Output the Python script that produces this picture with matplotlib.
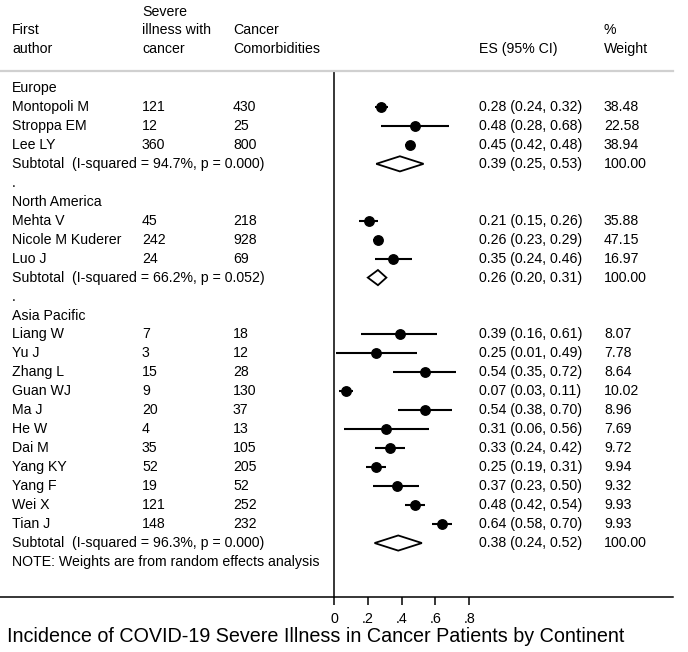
import matplotlib
matplotlib.use("Agg")
import matplotlib.pyplot as plt
from matplotlib.patches import Polygon

plt.rcParams["font.family"] = ["Liberation Sans", "DejaVu Sans"]

# ---- data ----
groups = ["Europe", "North America", "Asia Pacific"]
authors = [
    ["Montopoli M", "Stroppa EM", "Lee LY"],
    ["Mehta V", "Nicole M Kuderer", "Luo J"],
    ["Liang W", "Yu J", "Zhang L", "Guan WJ", "Ma J", "He W", "Dai M",
     "Yang KY", "Yang F", "Wei X", "Tian J"],
]
severe = [
    [121, 12, 360],
    [45, 242, 24],
    [7, 3, 15, 9, 20, 4, 35, 52, 19, 121, 148],
]
cancer = [
    [430, 25, 800],
    [218, 928, 69],
    [18, 12, 28, 130, 37, 13, 105, 205, 52, 252, 232],
]
es = [
    [0.28, 0.48, 0.45],
    [0.21, 0.26, 0.35],
    [0.39, 0.25, 0.54, 0.07, 0.54, 0.31, 0.33, 0.25, 0.37, 0.48, 0.64],
]
lo = [
    [0.24, 0.28, 0.42],
    [0.15, 0.23, 0.24],
    [0.16, 0.01, 0.35, 0.03, 0.38, 0.06, 0.24, 0.19, 0.23, 0.42, 0.58],
]
hi = [
    [0.32, 0.68, 0.48],
    [0.26, 0.29, 0.46],
    [0.61, 0.49, 0.72, 0.11, 0.70, 0.56, 0.42, 0.31, 0.50, 0.54, 0.70],
]
weight = [
    [38.48, 22.58, 38.94],
    [35.88, 47.15, 16.97],
    [8.07, 7.78, 8.64, 10.02, 8.96, 7.69, 9.72, 9.94, 9.32, 9.93, 9.93],
]
sub_es = [0.39, 0.26, 0.38]
sub_lo = [0.25, 0.20, 0.24]
sub_hi = [0.53, 0.31, 0.52]
sub_i2 = ["94.7%", "66.2%", "96.3%"]
sub_p = ["0.000", "0.052", "0.000"]
xticks = [0, 0.2, 0.4, 0.6, 0.8]
xticklabels = ["0", ".2", ".4", ".6", ".8"]

W, H = 688, 652
fig = plt.figure(figsize=(W / 100, H / 100), dpi=100)
# axes spans the table width; x in effect-size units, y in table rows
ax = fig.add_axes([0, 1 - 597 / H, 673 / W, (597 - 71) / H])
ax.set_xlim(-334 / 169, 339 / 169)
ax.set_ylim(509 / 18.96, -17 / 18.96)

ax.spines["right"].set_visible(False)
ax.spines["top"].set_color("#d0d0d0")
ax.spines["top"].set_linewidth(1.6)
ax.spines["left"].set_position(("data", 0))
ax.spines["left"].set_linewidth(1.1)
ax.spines["bottom"].set_linewidth(1.1)
ax.set_yticks([])
ax.set_xticks(xticks)
ax.set_xticklabels(xticklabels, fontsize=10.3)
ax.tick_params(axis="x", direction="out", length=6, width=1.1, pad=5)

fs = 10.2
colx = {"author": 12, "severe": 142, "cancer": 233, "es": 479, "wt": 604}
tr = ax.get_yaxis_transform()


def put(col, row, s):
    ax.text(colx[col] / 673, row, s, transform=tr, fontsize=fs,
            va="center", ha="left", clip_on=False)


# header
put("severe", -4.0, "Severe")
put("author", -3.05, "First")
put("severe", -3.05, "illness with")
put("cancer", -3.05, "Cancer")
put("wt", -3.05, "%")
put("author", -2.05, "author")
put("severe", -2.05, "cancer")
put("cancer", -2.05, "Comorbidities")
put("es", -2.05, "ES (95% CI)")
put("wt", -2.05, "Weight")

row = 0
for g in range(len(groups)):
    put("author", row, groups[g])
    row += 1
    for k in range(len(authors[g])):
        put("author", row, authors[g][k])
        put("severe", row, str(severe[g][k]))
        put("cancer", row, str(cancer[g][k]))
        put("es", row, f"{es[g][k]:.2f} ({lo[g][k]:.2f}, {hi[g][k]:.2f})")
        put("wt", row, f"{weight[g][k]:.2f}")
        ax.plot([lo[g][k], hi[g][k]], [row, row], color="black", lw=1.5,
                solid_capstyle="butt")
        ax.plot(es[g][k], row, "o", color="black", ms=6.8)
        row += 1
    put("author", row, f"Subtotal  (I-squared = {sub_i2[g]}, p = {sub_p[g]})")
    put("es", row, f"{sub_es[g]:.2f} ({sub_lo[g]:.2f}, {sub_hi[g]:.2f})")
    put("wt", row, "100.00")
    ax.add_patch(Polygon([(sub_lo[g], row), (sub_es[g], row - 0.4),
                          (sub_hi[g], row), (sub_es[g], row + 0.4)],
                         closed=True, facecolor="white", edgecolor="black",
                         lw=1.3))
    row += 1
    if g < len(groups) - 1:
        put("author", row, ".")
        row += 1

put("author", row, "NOTE: Weights are from random effects analysis")

fig.text(316 / W, 1 - 637 / H,
         "Incidence of COVID-19 Severe Illness in Cancer Patients by Continent",
         fontsize=14.2, ha="center", va="center")

fig.savefig("out.png", dpi=100)
